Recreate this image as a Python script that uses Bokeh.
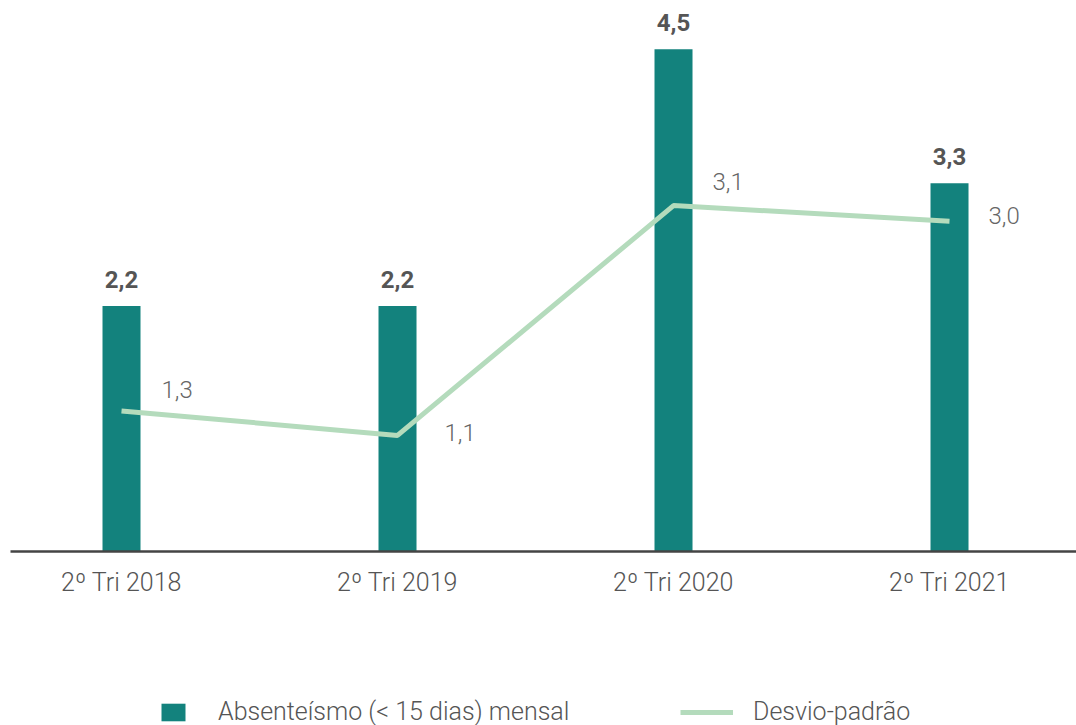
from bokeh.plotting import figure
from bokeh.layouts import column
from bokeh.models import ColumnDataSource, FixedTicker, Legend, LegendItem, Range1d
from bokeh.core.properties import value
from bokeh.embed import file_html
from bokeh.resources import INLINE

categories = ["2º Tri 2018", "2º Tri 2019", "2º Tri 2020", "2º Tri 2021"]
absenteismo = [2.2, 2.2, 4.5, 3.3]
absenteismo_labels = ["2,2", "2,2", "4,5", "3,3"]
desvio = [1.26, 1.04, 3.10, 2.96]
desvio_labels = ["1,3", "1,1", "3,1", "3,0"]
series_names = ["Absenteísmo (< 15 dias) mensal", "Desvio-padrão"]

# label placement (screen px), style only
desvio_dx = [40, 47, 39, 39]
desvio_dy = [-21, -3, -24, -6]

BAR = "#13827d"
LINE = "#b4dbbc"
LIGHT = "'Roboto Light', Roboto"

xs = list(range(len(categories)))
src = ColumnDataSource(dict(x=xs, a=absenteismo, al=absenteismo_labels,
                            d=desvio, dl=desvio_labels, dx=desvio_dx, dy=desvio_dy))

p = figure(width=1076, height=680, output_backend="svg", toolbar_location=None,
           x_range=Range1d(-0.4022, 3.4601), y_range=Range1d(0, 4.866),
           y_axis_location=None, min_border_left=10, min_border_right=0,
           min_border_top=8, min_border_bottom=129)
p.outline_line_color = None
p.grid.visible = False
p.background_fill_color = "white"
p.border_fill_color = "white"

p.vbar(x="x", top="a", width=0.1377, source=src, fill_color=BAR, line_color=None)
p.line(x="x", y="d", source=src, line_color=LINE, line_width=5)

p.text(x="x", y="a", text="al", source=src, text_align="center", text_baseline="alphabetic",
       y_offset=-27, text_font=value("Roboto"), text_font_style="bold",
       text_font_size="24px", text_color="#555555")
p.text(x="x", y="d", text="dl", source=src, text_align="left", text_baseline="alphabetic",
       x_offset="dx", y_offset="dy", text_font=value(LIGHT),
       text_font_size="24px", text_color="#666666")

ax = p.xaxis[0]
ax.ticker = FixedTicker(ticks=xs)
ax.major_label_overrides = {i: c for i, c in zip(xs, categories)}
ax.axis_line_color = "#444444"
ax.axis_line_width = 2.5
ax.major_tick_line_color = None
ax.minor_tick_line_color = None
ax.major_label_standoff = 10
ax.major_label_text_font = LIGHT
ax.major_label_text_font_size = "25px"
ax.major_label_text_color = "#555555"

# legend strip (its renderers sit outside the visible range; only the legend shows)
lg = figure(width=1076, height=45, output_backend="svg", toolbar_location=None,
            x_range=Range1d(0, 1), y_range=Range1d(0, 1),
            x_axis_location=None, y_axis_location=None,
            min_border_left=0, min_border_right=0, min_border_top=0, min_border_bottom=0)
lg.outline_line_color = None
lg.grid.visible = False
hidden = ColumnDataSource(dict(x=[5, 6], y=[5, 5]))
lbar = lg.vbar(x="x", top="y", width=0.1, source=hidden, fill_color=BAR, line_color=None)
lline = lg.line(x="x", y="y", source=hidden, line_color=LINE, line_width=5)

common = dict(orientation="horizontal", glyph_height=22, padding=0, margin=0,
              border_line_color=None, background_fill_alpha=0, label_text_font=LIGHT,
              label_text_font_size="25px", label_text_color="#555555")
leg1 = Legend(items=[LegendItem(label=series_names[0], renderers=[lbar])],
              location=(148, -1), glyph_width=30, label_standoff=30, **common)
leg2 = Legend(items=[LegendItem(label=series_names[1], renderers=[lline])],
              location=(670, -1), glyph_width=53, label_standoff=20, **common)
lg.add_layout(leg1)
lg.add_layout(leg2)

layout = column(p, lg, spacing=0)
open("out.html", "w").write(file_html(layout, INLINE))
